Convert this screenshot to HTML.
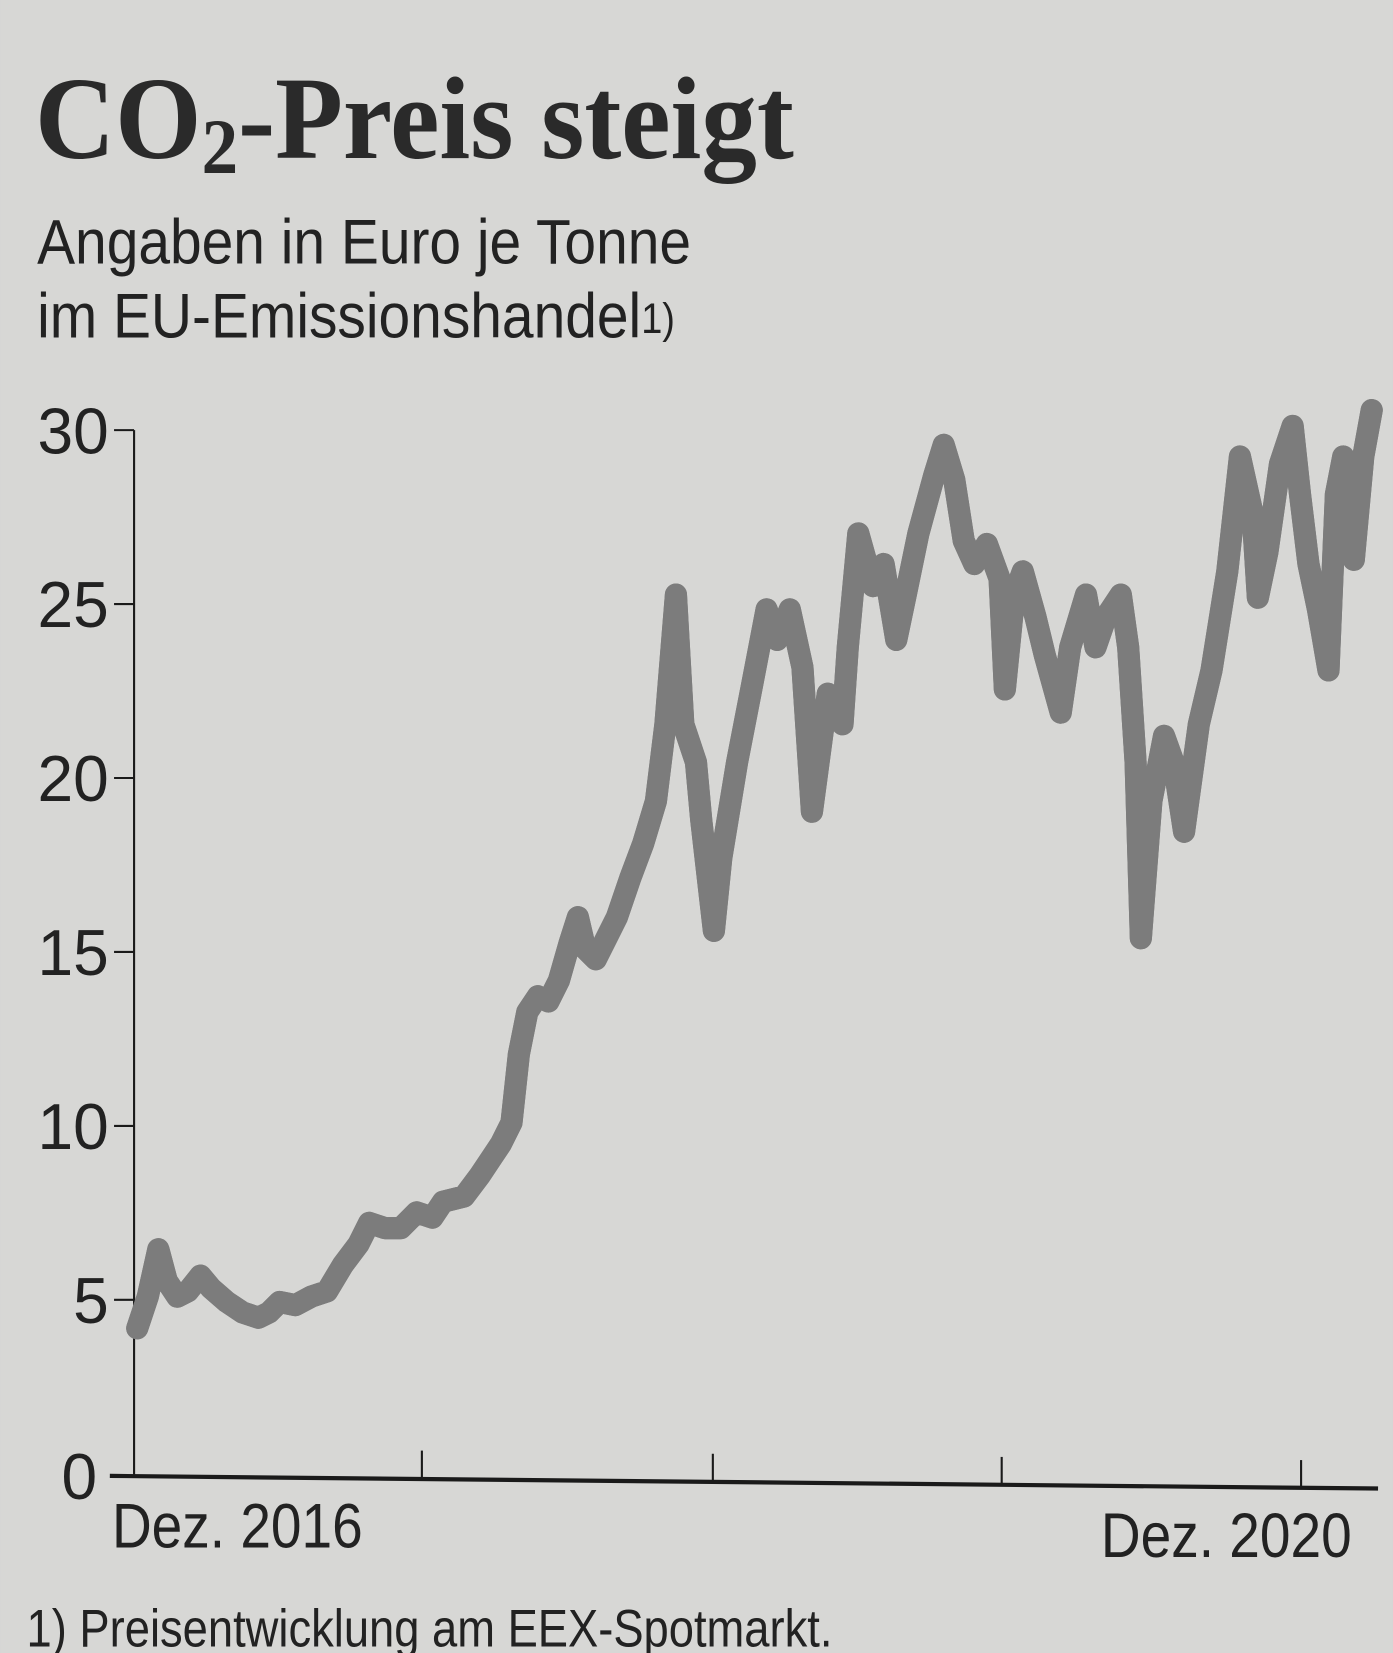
<!DOCTYPE html>
<html><head><meta charset="utf-8"><style>
html,body{margin:0;padding:0;background:#d7d7d5;}
svg{display:block;}
</style></head><body>
<svg width="1393" height="1653" viewBox="0 0 1321 1568" xmlns="http://www.w3.org/2000/svg">
<rect width="1321" height="1568" fill="#d7d7d5"/>
<text x="33" y="150" font-family="Liberation Serif, serif" font-weight="bold" font-size="112" fill="#2a2a2a" transform="translate(33,0) scale(0.94,1) translate(-33,0)">CO<tspan font-size="74" dy="14">2</tspan><tspan dy="-14">-Preis steigt</tspan></text>
<g font-family="Liberation Sans, sans-serif" fill="#222">
<text x="35" y="250" font-size="60" transform="translate(35,0) scale(0.9,1) translate(-35,0)">Angaben in Euro je Tonne</text>
<text x="35" y="320" font-size="60" transform="translate(35,0) scale(0.9,1) translate(-35,0)">im EU-Emissionshandel<tspan font-size="40" dy="-4">1)</tspan></text>
<g font-size="62" text-anchor="end">
<text x="103" y="430" transform="translate(103,0) scale(0.98,1) translate(-103,0)">30</text>
<text x="103" y="595" transform="translate(103,0) scale(0.98,1) translate(-103,0)">25</text>
<text x="103" y="760" transform="translate(103,0) scale(0.98,1) translate(-103,0)">20</text>
<text x="103" y="925" transform="translate(103,0) scale(0.98,1) translate(-103,0)">15</text>
<text x="103" y="1090" transform="translate(103,0) scale(0.98,1) translate(-103,0)">10</text>
<text x="103" y="1255" transform="translate(103,0) scale(0.98,1) translate(-103,0)">5</text>
<text x="92" y="1422" transform="translate(92,0) scale(0.98,1) translate(-92,0)">0</text>
</g>
<text x="106" y="1468" font-size="60" transform="translate(106,0) scale(0.87,1) translate(-106,0)">Dez. 2016</text>
<text x="1282" y="1477" font-size="60" text-anchor="end" transform="translate(1282,0) scale(0.87,1) translate(-1282,0)">Dez. 2020</text>
<text x="25" y="1562" font-size="50" transform="translate(25,0) scale(0.86,1) translate(-25,0)">1) Preisentwicklung am EEX-Spotmarkt.</text>
</g>
<g stroke="#1a1a1a" fill="none">
<line x1="127" y1="408" x2="127" y2="1401" stroke-width="2"/>
<line x1="108" y1="408" x2="127" y2="408" stroke-width="2"/>
<line x1="108" y1="573" x2="127" y2="573" stroke-width="2"/>
<line x1="108" y1="738" x2="127" y2="738" stroke-width="2"/>
<line x1="108" y1="903" x2="127" y2="903" stroke-width="2"/>
<line x1="108" y1="1068" x2="127" y2="1068" stroke-width="2"/>
<line x1="108" y1="1233" x2="127" y2="1233" stroke-width="2"/>
<line x1="104" y1="1400" x2="1307" y2="1412" stroke-width="4"/>
<line x1="400" y1="1376" x2="400" y2="1403" stroke-width="2"/>
<line x1="676" y1="1379" x2="676" y2="1406" stroke-width="2"/>
<line x1="950" y1="1382" x2="950" y2="1409" stroke-width="2"/>
<line x1="1234" y1="1385" x2="1234" y2="1411" stroke-width="2"/>
</g>
<g fill="none" stroke-linejoin="round" stroke-linecap="round">
<polyline id="p" stroke="#7c7c7c" stroke-width="21" points="130,1260 140,1230 150,1185 158,1215 168,1230 178,1225 190,1210 200,1222 215,1235 230,1245 245,1250 255,1245 265,1235 280,1238 295,1230 310,1225 325,1200 340,1180 350,1160 365,1165 380,1165 395,1150 410,1155 420,1140 440,1135 455,1115 465,1100 475,1085 485,1065 492,1000 500,960 510,945 520,950 530,930 540,895 548,870 555,900 565,910 575,890 585,870 598,832 610,800 622,760 631,687 641,564 648,687 660,723 665,778 677,883 684,814 699,723 713,651 727,578 737,607 749,578 761,633 770,770 785,658 799,687 804,614 814,506 828,556 838,535 850,607 859,564 871,506 886,451 895,422 905,455 914,513 924,535 936,516 948,549 953,654 962,564 970,542 982,585 991,622 1006,676 1015,614 1030,564 1039,614 1049,585 1063,564 1070,614 1077,723 1082,890 1092,760 1104,698 1113,723 1123,789 1137,687 1149,636 1164,542 1176,433 1188,487 1193,567 1202,524 1214,440 1226,404 1233,469 1241,535 1250,578 1260,636 1267,469 1274,433 1284,531 1293,433 1301,389"/>
<use href="#p" stroke="#9a9a9a" stroke-width="16"/>
</g>
</svg>
</body></html>
